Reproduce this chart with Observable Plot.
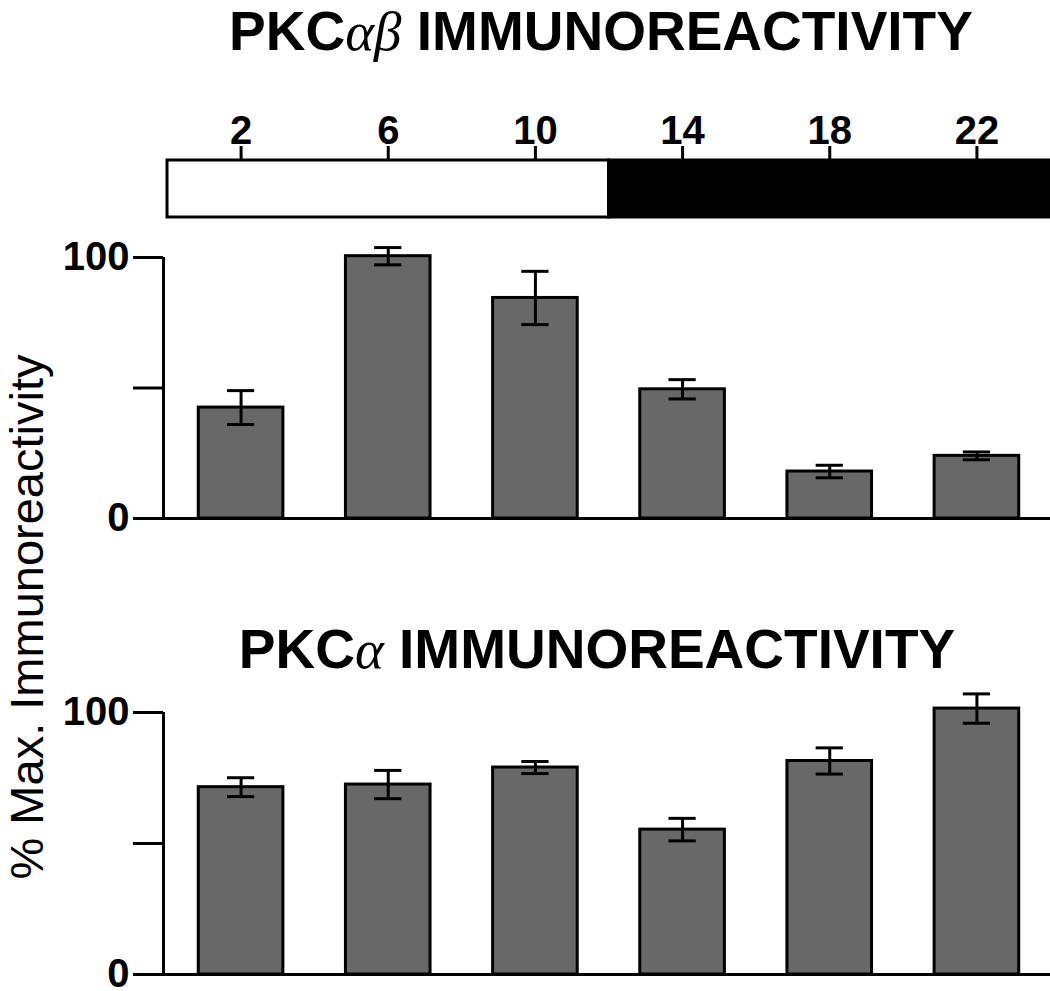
<!DOCTYPE html>
<html>
<head>
<meta charset="utf-8">
<script src="https://cdn.jsdelivr.net/npm/d3@7"></script>
<script src="https://cdn.jsdelivr.net/npm/@observablehq/plot@0.6"></script>
<style>
  html, body { margin: 0; padding: 0; background: #fff; overflow: hidden; }
  #wrap { position: relative; width: 1050px; height: 991px; font-family: "Liberation Sans", Arial, sans-serif; }
  .panel { position: absolute; left: 0; }
  .title { position: absolute; left: 0; width: 1050px; font-weight: bold; font-size: 55px; line-height: 62px; white-space: nowrap; color: #000; }
  .title span.inner { position: absolute; transform: translateX(-50%); }
  .greek { font-family: "Liberation Serif", serif; font-weight: normal; font-style: italic; }
  #ylabel { position: absolute; left: 26px; top: 617px; font-size: 47px; line-height: 53px; white-space: nowrap; transform: translate(-50%, -50%) rotate(-90deg); color: #000; }
</style>
</head>
<body>
<div id="wrap">
  <div class="title" style="top:0px"><span class="inner" style="left:601px">PKC<span class="greek">αβ</span> IMMUNOREACTIVITY</span></div>
  <div class="title" style="top:618px"><span class="inner" style="left:597px">PKC<span class="greek">α</span> IMMUNOREACTIVITY</span></div>
  <div id="ylabel">% Max. Immunoreactivity</div>
  <div class="panel" id="timeline" style="top:90px"></div>
  <div class="panel" id="top" style="top:230px"></div>
  <div class="panel" id="bottom" style="top:690px"></div>
</div>
<script>
// ---- data ----
const hours = [2, 6, 10, 14, 18, 22];
const pkcAB = [42.5, 100.5, 84.5, 49.5, 18, 24];
const pkcABErr = [6.5, 3.3, 10.2, 3.7, 2.4, 1.5];
const pkcA = [71.5, 72.5, 79, 55.3, 81.5, 101.5];
const pkcAErr = [3.6, 5.4, 2.3, 4.3, 5, 5.6];
const phaseStart = [0, 12];
const phaseEnd = [12, 24];
const phaseDark = [false, true];
const yTicks = [0, 50, 100];

const phases = phaseStart.map((s, i) => ({start: s, end: phaseEnd[i], dark: phaseDark[i]}));
const dataAB = hours.map((h, i) => ({hour: h, value: pkcAB[i], err: pkcABErr[i]}));
const dataA = hours.map((h, i) => ({hour: h, value: pkcA[i], err: pkcAErr[i]}));

const font = "'Liberation Sans', Arial, sans-serif";
const barFill = "#686868";
const xScale = {domain: [0, 24], range: [167, 1050], axis: null};

// timeline
const tl = Plot.plot({
  width: 1050, height: 140,
  marginLeft: 163, marginRight: 0, marginTop: 70, marginBottom: 13,
  style: {fontFamily: font, background: "transparent", overflow: "visible"},
  x: {domain: [0, 24], range: [167, 1050]},
  marks: [
    Plot.rect(phases.filter(d => !d.dark), {x1: "start", x2: "end", fill: "white", stroke: "black", strokeWidth: 3}),
    Plot.rect(phases.filter(d => d.dark), {x1: "start", x2: "end", fill: "black", stroke: "black", strokeWidth: 3}),
    Plot.axisX({anchor: "top", ticks: hours, tickSize: 15, tickPadding: 2, fontSize: 40, fontWeight: "bold", strokeWidth: 3, label: null})
  ]
});
document.getElementById("timeline").appendChild(tl);

function barPanel(data, mt, mb) {
  return Plot.plot({
    width: 1050, height: 300,
    marginLeft: 163, marginRight: 0, marginTop: mt, marginBottom: mb,
    style: {fontFamily: font, background: "transparent", overflow: "visible"},
    x: xScale,
    y: {domain: [0, 100]},
    marks: [
      Plot.rect(data, {x1: d => d.hour - 1.15, x2: d => d.hour + 1.15, y1: 0, y2: "value", fill: barFill, stroke: "black", strokeWidth: 3}),
      Plot.ruleX(data, {x: "hour", y1: d => d.value - d.err, y2: d => d.value + d.err, strokeWidth: 3}),
      Plot.ruleY(data, {y: d => d.value + d.err, x1: d => d.hour - 0.37, x2: d => d.hour + 0.37, strokeWidth: 3}),
      Plot.ruleY(data, {y: d => d.value - d.err, x1: d => d.hour - 0.37, x2: d => d.hour + 0.37, strokeWidth: 3}),
      Plot.ruleY([0], {strokeWidth: 3}),
      Plot.ruleX([0], {y1: 0, y2: 100, dx: -4, strokeWidth: 3}),
      Plot.axisY({ticks: yTicks, tickFormat: d => d === 50 ? "" : String(d), tickSize: 30, tickPadding: 4, fontSize: 40, fontWeight: "bold", strokeWidth: 3, label: null})
    ]
  });
}
document.getElementById("top").appendChild(barPanel(dataAB, 27, 12));
document.getElementById("bottom").appendChild(barPanel(dataA, 22, 16));
</script>
</body>
</html>
